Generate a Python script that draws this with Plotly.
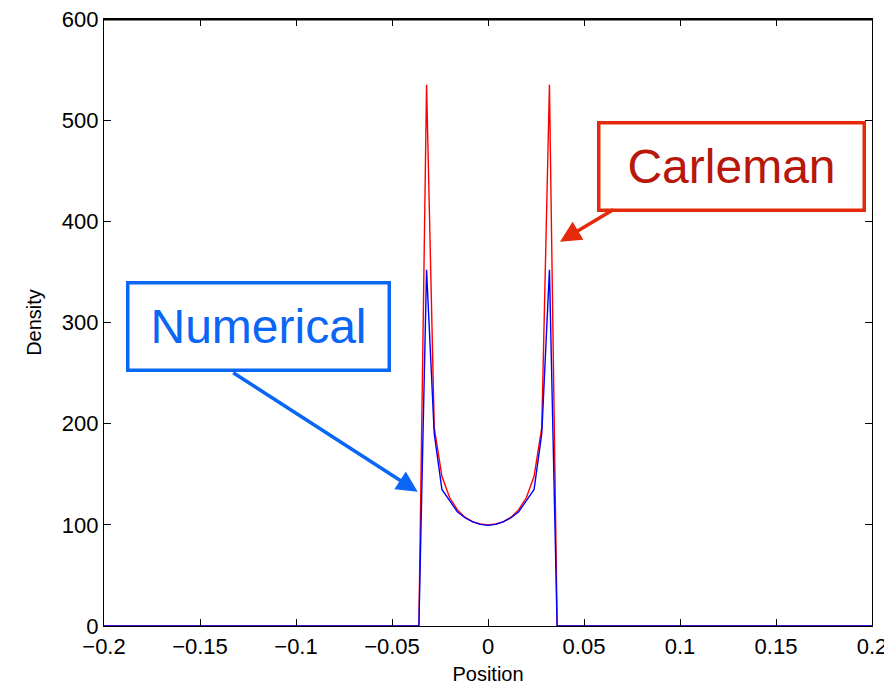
import plotly.graph_objects as go

# Positions of the grid points (outside +-0.036 the density is zero)
position = [-0.2, -0.036, -0.032, -0.028, -0.024, -0.020, -0.016, -0.012, -0.008, -0.004,
            0.0, 0.004, 0.008, 0.012, 0.016, 0.020, 0.024, 0.028, 0.032, 0.036, 0.2]

# Carleman (analytical) density
carleman = [0, 0, 535, 196, 148, 127, 115, 107.6, 103.2, 100.8,
            100, 100.8, 103.2, 107.6, 115, 127, 148, 196, 535, 0, 0]

# Numerical density
numerical = [0, 0, 352, 190, 135, 124, 113, 107, 103, 100.5,
             99.5, 100.5, 103, 107, 113, 124, 135, 190, 352, 0, 0]

x_ticks = [-0.2, -0.15, -0.1, -0.05, 0, 0.05, 0.1, 0.15, 0.2]
x_tick_text = ['\u22120.2', '\u22120.15', '\u22120.1', '\u22120.05', '0',
               '0.05', '0.1', '0.15', '0.2']
y_ticks = [0, 100, 200, 300, 400, 500, 600]

FONT = 'Liberation Sans, Arial, Helvetica, sans-serif'
BLUE = '#0a66f5'
RED_EDGE = '#e52a0c'
RED_TEXT = '#b8170b'

fig = go.Figure()

fig.add_trace(go.Scatter(x=position, y=carleman, mode='lines', name='Carleman',
                         line=dict(color='#ff0000', width=1.4)))
fig.add_trace(go.Scatter(x=position, y=numerical, mode='lines', name='Numerical',
                         line=dict(color='#0000ff', width=1.4)))

axis_style = dict(showgrid=False, zeroline=False, showline=True, linecolor='black',
                  linewidth=1.3, mirror='ticks', ticks='inside', ticklen=7,
                  tickcolor='black', tickwidth=1.2, automargin=False,
                  ticklabeloverflow='allow',
                  tickfont=dict(family=FONT, size=22, color='black'))

# the page body adds an 8px margin, so the figure is a bit smaller than the window
fig.update_layout(
    width=876, height=677,
    margin=dict(l=96, r=12, t=11, b=59),
    plot_bgcolor='white', paper_bgcolor='white',
    showlegend=False,
    xaxis=dict(range=[-0.2, 0.2], tickvals=x_ticks, ticktext=x_tick_text,
               title=dict(text='Position', font=dict(family=FONT, size=20, color='black'),
                          standoff=9),
               **axis_style),
    yaxis=dict(range=[0, 600], tickvals=y_ticks,
               title=dict(text='Density', font=dict(family=FONT, size=20, color='black'),
                          standoff=14),
               **axis_style),
)

# top frame line (drawn as a shape so it is surely visible)
fig.add_shape(type='line', xref='paper', yref='paper', x0=0, x1=1, y0=0.999, y1=0.999,
              line=dict(color='black', width=1.8), layer='above')

# Label boxes
fig.add_annotation(x=-0.1194, y=295.8, xref='x', yref='y', text='Numerical',
                   showarrow=False, font=dict(family=FONT, size=48, color=BLUE),
                   width=258, height=84, bordercolor=BLUE, borderwidth=3.5,
                   borderpad=0, bgcolor='white')
fig.add_annotation(x=0.1267, y=454.6, xref='x', yref='y', text='Carleman',
                   showarrow=False, font=dict(family=FONT, size=48, color=RED_TEXT),
                   width=262, height=84, bordercolor=RED_EDGE, borderwidth=3.5,
                   borderpad=0, bgcolor='white')

# Arrows pointing at the curves
fig.add_annotation(x=-0.0366, y=132.7, xref='x', yref='y', text='', showarrow=True,
                   ax=-186, ay=-120, arrowhead=2, arrowsize=1.2, arrowwidth=3.5,
                   arrowcolor=BLUE, standoff=0)
fig.add_annotation(x=0.0375, y=379.9, xref='x', yref='y', text='', showarrow=True,
                   ax=55, ay=-33, arrowhead=2, arrowsize=1.2, arrowwidth=3.5,
                   arrowcolor=RED_EDGE, standoff=0)

fig.write_html('out.html')
